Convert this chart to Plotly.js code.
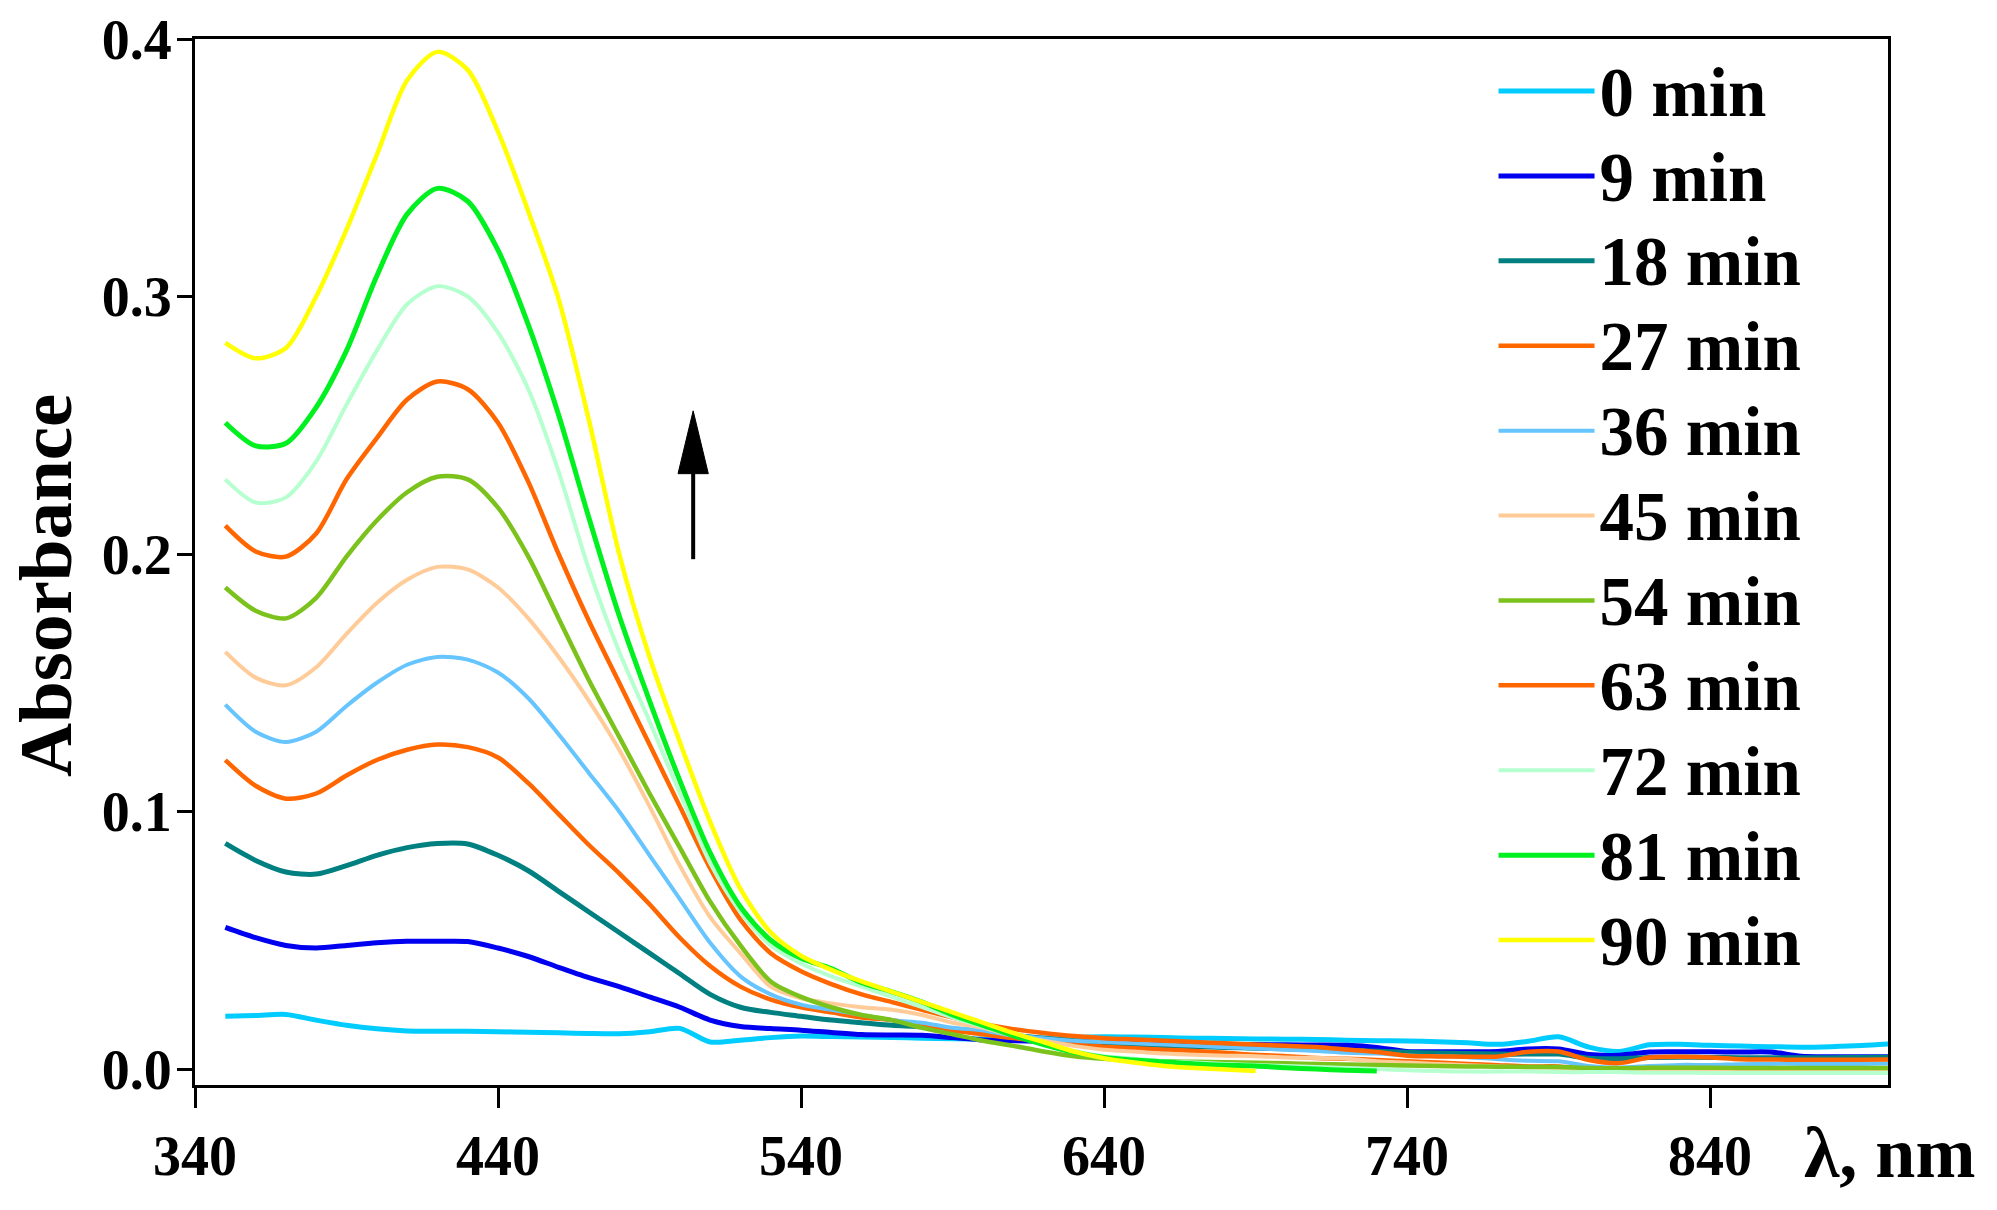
<!DOCTYPE html>
<html>
<head>
<meta charset="utf-8">
<script src="https://cdn.plot.ly/plotly-3.0.1.min.js"></script>
<style>
  html, body { margin: 0; padding: 0; background: #fff; }
  #chart { width: 1997px; height: 1210px; }
</style>
</head>
<body>
<div id="chart"></div>
<script>
const FONT = '"Liberation Serif", "Times New Roman", serif'

// wavelength grid, nm
const wavelength = [
  350, 360, 370, 380, 390, 400, 410, 420, 430, 440,
  450, 460, 470, 480, 490, 500, 510, 520, 530, 540,
  550, 560, 570, 580, 590, 600, 610, 620, 630, 640,
  650, 660, 670, 680, 690, 700, 710, 720, 730, 740,
  750, 760, 770, 780, 790, 800, 810, 820, 830, 840,
  850, 860, 870, 880, 890, 900
]

const seriesNames = ['0 min', '9 min', '18 min', '27 min', '36 min', '45 min',
  '54 min', '63 min', '72 min', '81 min', '90 min']

const seriesColors = ['#00ccff', '#0000f0', '#008080', '#ff6600', '#66c4ff', '#ffcc99',
  '#7cc21c', '#ff6600', '#b6ffcf', '#00f020', '#ffff00']

const abs0 = [
  0.0205, 0.0208, 0.0212, 0.0190, 0.0170, 0.0156, 0.0148, 0.0147, 0.0147, 0.0145,
  0.0143, 0.0141, 0.0138, 0.0137, 0.0145, 0.0158, 0.0105, 0.0112, 0.0122, 0.0128,
  0.0126, 0.0124, 0.0122, 0.0120, 0.0118, 0.0117, 0.0119, 0.0121, 0.0123, 0.0125,
  0.0124, 0.0122, 0.0120, 0.0119, 0.0117, 0.0116, 0.0115, 0.0112, 0.0110, 0.0109,
  0.0106, 0.0102, 0.0096, 0.0108, 0.0125, 0.0085, 0.0068, 0.0094, 0.0096, 0.0092,
  0.0089, 0.0087, 0.0085, 0.0087, 0.0091, 0.0098
]
const abs9 = [
  0.0550, 0.0510, 0.0480, 0.0470, 0.0480, 0.0490, 0.0496, 0.0496, 0.0495, 0.0470,
  0.0437, 0.0395, 0.0355, 0.0320, 0.0280, 0.0240, 0.0190, 0.0165, 0.0157, 0.0151,
  0.0142, 0.0134, 0.0132, 0.0131, 0.0122, 0.0113, 0.0110, 0.0108, 0.0106, 0.0103,
  0.0101, 0.0099, 0.0097, 0.0096, 0.0095, 0.0094, 0.0093, 0.0092, 0.0084, 0.0068,
  0.0067, 0.0067, 0.0068, 0.0078, 0.0078, 0.0056, 0.0054, 0.0066, 0.0067, 0.0067,
  0.0066, 0.0066, 0.0050, 0.0048, 0.0048, 0.0048
]
const abs18 = [
  0.0876, 0.0810, 0.0765, 0.0757, 0.0790, 0.0830, 0.0860, 0.0876, 0.0874, 0.0830,
  0.0770, 0.0690, 0.0610, 0.0530, 0.0450, 0.0370, 0.0290, 0.0240, 0.0220, 0.0205,
  0.0190, 0.0180, 0.0170, 0.0164, 0.0152, 0.0140, 0.0130, 0.0120, 0.0110, 0.0100,
  0.0095, 0.0090, 0.0087, 0.0084, 0.0081, 0.0079, 0.0076, 0.0073, 0.0069, 0.0065,
  0.0062, 0.0060, 0.0058, 0.0058, 0.0058, 0.0042, 0.0040, 0.0045, 0.0046, 0.0045,
  0.0044, 0.0044, 0.0044, 0.0044, 0.0045, 0.0046
]
const abs27 = [
  0.1200, 0.1100, 0.1050, 0.1070, 0.1140, 0.1200, 0.1240, 0.1260, 0.1250, 0.1210,
  0.1110, 0.0990, 0.0870, 0.0760, 0.0640, 0.0510, 0.0400, 0.0320, 0.0270, 0.0240,
  0.0220, 0.0200, 0.0190, 0.0170, 0.0150, 0.0135, 0.0120, 0.0110, 0.0095, 0.0087,
  0.0081, 0.0075, 0.0070, 0.0063, 0.0055, 0.0050, 0.0043, 0.0040, 0.0035, 0.0030,
  0.0025, 0.0020, 0.0015, 0.0010, 0.0010, 0.0000, -0.0003, 0.0000, 0.0002, 0.0002,
  0.0002, 0.0002, 0.0002, 0.0002, 0.0002, 0.0002
]
const abs36 = [
  0.1415, 0.1310, 0.1270, 0.1310, 0.1410, 0.1500, 0.1570, 0.1600, 0.1590, 0.1540,
  0.1440, 0.1300, 0.1150, 0.1000, 0.0830, 0.0660, 0.0490, 0.0360, 0.0290, 0.0250,
  0.0230, 0.0210, 0.0190, 0.0180, 0.0160, 0.0150, 0.0130, 0.0120, 0.0110, 0.0105,
  0.0100, 0.0095, 0.0090, 0.0085, 0.0080, 0.0075, 0.0070, 0.0063, 0.0060, 0.0053,
  0.0050, 0.0046, 0.0038, 0.0032, 0.0030, 0.0012, 0.0006, 0.0012, 0.0016, 0.0016,
  0.0019, 0.0020, 0.0020, 0.0020, 0.0020, 0.0022
]
const abs45 = [
  0.1620, 0.1520, 0.1490, 0.1560, 0.1690, 0.1810, 0.1900, 0.1950, 0.1940, 0.1870,
  0.1750, 0.1600, 0.1430, 0.1240, 0.1020, 0.0790, 0.0590, 0.0450, 0.0320, 0.0275,
  0.0255, 0.0240, 0.0230, 0.0210, 0.0180, 0.0160, 0.0130, 0.0110, 0.0090, 0.0075,
  0.0068, 0.0060, 0.0055, 0.0052, 0.0050, 0.0045, 0.0043, 0.0040, 0.0030, 0.0025,
  0.0020, 0.0015, 0.0010, 0.0006, 0.0005, -0.0008, -0.0010, -0.0005, -0.0002, -0.0003,
  -0.0004, -0.0006, -0.0008, -0.0008, -0.0009, -0.0010
]
const abs54 = [
  0.1870, 0.1780, 0.1750, 0.1830, 0.1990, 0.2130, 0.2240, 0.2300, 0.2290, 0.2180,
  0.1990, 0.1750, 0.1510, 0.1290, 0.1070, 0.0860, 0.0650, 0.0480, 0.0340, 0.0280,
  0.0240, 0.0210, 0.0190, 0.0160, 0.0135, 0.0110, 0.0090, 0.0068, 0.0050, 0.0040,
  0.0035, 0.0030, 0.0028, 0.0026, 0.0024, 0.0022, 0.0020, 0.0018, 0.0016, 0.0014,
  0.0012, 0.0010, 0.0009, 0.0008, 0.0008, 0.0004, 0.0003, 0.0005, 0.0005, 0.0005,
  0.0004, 0.0004, 0.0004, 0.0004, 0.0004, 0.0004
]
const abs63 = [
  0.2110, 0.2010, 0.1990, 0.2080, 0.2290, 0.2450, 0.2600, 0.2670, 0.2640, 0.2510,
  0.2280, 0.2000, 0.1740, 0.1500, 0.1260, 0.1020, 0.0780, 0.0580, 0.0450, 0.0380,
  0.0330, 0.0290, 0.0260, 0.0230, 0.0200, 0.0175, 0.0155, 0.0140, 0.0128, 0.0120,
  0.0115, 0.0110, 0.0105, 0.0100, 0.0095, 0.0090, 0.0086, 0.0076, 0.0066, 0.0052,
  0.0049, 0.0048, 0.0049, 0.0067, 0.0068, 0.0035, 0.0023, 0.0045, 0.0048, 0.0045,
  0.0038, 0.0037, 0.0036, 0.0036, 0.0036, 0.0037
]
const abs72 = [
  0.2290, 0.2200, 0.2220, 0.2360, 0.2580, 0.2790, 0.2970, 0.3040, 0.3000, 0.2860,
  0.2640, 0.2320, 0.1940, 0.1620, 0.1350, 0.1070, 0.0800, 0.0610, 0.0480, 0.0410,
  0.0360, 0.0320, 0.0280, 0.0240, 0.0200, 0.0165, 0.0130, 0.0100, 0.0070, 0.0050,
  0.0040, 0.0030, 0.0025, 0.0020, 0.0016, 0.0012, 0.0008, 0.0004, 0.0000, -0.0005,
  -0.0008, -0.0010, -0.0010, -0.0010, -0.0012, -0.0012, -0.0012, -0.0014, -0.0014, -0.0015,
  -0.0015, -0.0015, -0.0015, -0.0015, -0.0015, -0.0015
]
const abs81 = [
  0.2510, 0.2420, 0.2430, 0.2570, 0.2790, 0.3080, 0.3320, 0.3420, 0.3370, 0.3180,
  0.2890, 0.2540, 0.2140, 0.1760, 0.1430, 0.1120, 0.0840, 0.0630, 0.0500, 0.0430,
  0.0390, 0.0335, 0.0300, 0.0260, 0.0210, 0.0170, 0.0130, 0.0095, 0.0065, 0.0045,
  0.0035, 0.0028, 0.0020, 0.0015, 0.0012, 0.0005, 0.0000, -0.0005, -0.0008, null,
  null, null, null, null, null, null, null, null, null, null,
  null, null, null, null, null, null
]
const abs90 = [
  0.2820, 0.2760, 0.2800, 0.3000, 0.3260, 0.3550, 0.3840, 0.3950, 0.3880, 0.3640,
  0.3330, 0.2990, 0.2520, 0.2000, 0.1600, 0.1270, 0.0960, 0.0700, 0.0530, 0.0440,
  0.0385, 0.0340, 0.0300, 0.0260, 0.0220, 0.0180, 0.0140, 0.0105, 0.0068, 0.0042,
  0.0025, 0.0012, 0.0004, -0.0002, -0.0008, null, null, null, null, null,
  null, null, null, null, null, null, null, null, null, null,
  null, null, null, null, null, null
]

const seriesValues = [abs0, abs9, abs18, abs27, abs36, abs45, abs54, abs63, abs72, abs81, abs90]
const lineWidths = [5, 5, 5, 4.5, 4, 4, 4.5, 4.5, 4, 5, 4.5]

const xTicks = [340, 440, 540, 640, 740, 840]
const yTicks = [0, 0.1, 0.2, 0.3, 0.4]
const yTickText = ['0.0', '0.1', '0.2', '0.3', '0.4']

const traces = seriesValues.map((values, i) => ({
  x: wavelength,
  y: values,
  // legend label drawn a bit larger than the row height font
  name: '<span style="font-size:69px">' + seriesNames[i] + '</span>',
  type: 'scatter',
  mode: 'lines',
  line: { color: seriesColors[i], width: lineWidths[i], shape: 'spline', smoothing: 0.8 },
  connectgaps: false
}))

const axisFont = { family: FONT, size: 56, color: '#000', weight: 700 }

const layout = {
  width: 1997,
  height: 1210,
  margin: { l: 195, r: 109, t: 39, b: 125 },
  paper_bgcolor: '#fff',
  plot_bgcolor: '#fff',
  font: { family: FONT, color: '#000' },
  showlegend: true,
  legend: {
    x: 0.767,
    xanchor: 'left',
    y: 0.9956,
    yanchor: 'top',
    itemwidth: 96,
    bgcolor: 'rgba(0,0,0,0)',
    borderwidth: 0,
    font: { family: FONT, size: 63, color: '#000', weight: 700 }
  },
  xaxis: {
    range: [340, 898.7],
    tickvals: xTicks,
    ticks: 'outside',
    ticklen: 20,
    tickwidth: 3,
    tickcolor: '#000',
    ticklabelstandoff: 0,
    tickfont: axisFont,
    showline: true,
    linewidth: 3,
    linecolor: '#000',
    mirror: true,
    showgrid: false,
    zeroline: false
  },
  yaxis: {
    range: [-0.0062, 0.4],
    tickvals: yTicks,
    ticktext: yTickText,
    ticks: 'outside',
    ticklen: 15,
    tickwidth: 3,
    tickcolor: '#000',
    ticklabelstandoff: -6,
    tickfont: axisFont,
    showline: true,
    linewidth: 3,
    linecolor: '#000',
    mirror: true,
    showgrid: false,
    zeroline: false
  },
  annotations: [
    {
      text: 'Absorbance',
      xref: 'paper',
      yref: 'paper',
      x: -0.0886,
      y: 0.477,
      xanchor: 'center',
      yanchor: 'middle',
      textangle: -90,
      showarrow: false,
      font: { family: FONT, size: 75, color: '#000', weight: 700 }
    },
    {
      text: 'λ, nm',
      xref: 'paper',
      yref: 'paper',
      x: 0.949,
      y: -0.065,
      xanchor: 'left',
      yanchor: 'middle',
      showarrow: false,
      font: { family: FONT, size: 72, color: '#000', weight: 700 }
    }
  ],
  shapes: [
    // arrow shaft
    {
      type: 'line',
      xref: 'x',
      yref: 'y',
      x0: 504.4,
      x1: 504.4,
      y0: 0.198,
      y1: 0.236,
      line: { color: '#000', width: 4 }
    },
    // arrow head
    {
      type: 'path',
      xref: 'x',
      yref: 'y',
      path: 'M 499.4,0.2312 L 509.4,0.2312 L 504.4,0.2556 Z',
      fillcolor: '#000',
      line: { color: '#000', width: 1 }
    }
  ]
}

Plotly.newPlot('chart', traces, layout, { displayModeBar: false, staticPlot: true })
</script>
</body>
</html>
